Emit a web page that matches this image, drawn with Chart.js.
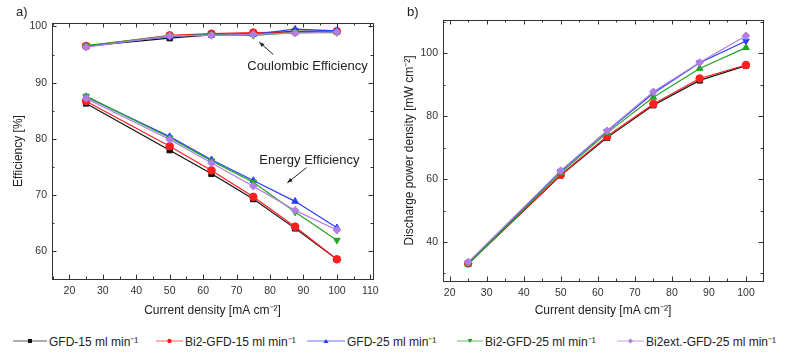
<!DOCTYPE html>
<html>
<head>
<meta charset="utf-8">
<script src="https://cdn.jsdelivr.net/npm/chart.js@4.4.1/dist/chart.umd.min.js"></script>
<style>
  body { margin: 0; background: #fff; }
  #wrap { position: relative; width: 800px; height: 353px; overflow: hidden; font-family: "Liberation Sans", Arial, sans-serif; color: #222; }
  canvas { position: absolute; top: 0; }
  .panel { position: absolute; top: 4px; font-size: 13px; }
  .leg { position: absolute; top: 333px; height: 16px; display: flex; align-items: center; font-size: 12px; white-space: nowrap; }
  .leg svg { margin-right: 2px; }
</style>
</head>
<body>
<div id="wrap">
  <canvas id="chartA" width="400" height="325" style="left:0"></canvas>
  <canvas id="chartB" width="400" height="325" style="left:400px"></canvas>
  <div class="panel" style="left:16px">a)</div>
  <div class="panel" style="left:407px">b)</div>
  <div id="legend"></div>
</div>
<script>
// corriente de descarga (eje x de ambos graficos)
var currentDensity = [25, 50, 62.5, 75, 87.5, 100];

var seriesNames = ['GFD-15 ml min⁻¹', 'Bi2-GFD-15 ml min⁻¹', 'GFD-25 ml min⁻¹', 'Bi2-GFD-25 ml min⁻¹', 'Bi2ext.-GFD-25 ml min⁻¹'];

// Coulombic efficiency [%]
var ceGFD15     = [96.5, 97.9, 98.5, 98.7, 99.1, 99.2];
var ceBi2GFD15  = [96.5, 98.4, 98.7, 98.9, 99.0, 99.1];
var ceGFD25     = [96.5, 98.2, 98.6, 98.6, 99.5, 99.2];
var ceBi2GFD25  = [96.6, 98.3, 98.5, 98.4, 98.9, 98.9];
var ceBi2extGFD = [96.3, 98.3, 98.4, 98.6, 98.8, 99.0];

// Energy efficiency [%]
var eeGFD15     = [86.3, 78.0, 73.8, 69.3, 64.1, 58.6];
var eeBi2GFD15  = [86.7, 78.7, 74.4, 69.7, 64.4, 58.6];
var eeGFD25     = [87.5, 80.4, 76.3, 72.6, 68.9, 64.2];
var eeBi2GFD25  = [87.6, 80.2, 76.1, 72.3, 67.0, 62.0];
var eeBi2extGFD = [87.2, 79.9, 75.7, 71.6, 67.3, 63.8];

// Discharge power density [mW cm-2]
var pdGFD15     = [33.1, 61.2, 73.2, 83.5, 91.4, 96.1];
var pdBi2GFD15  = [33.2, 61.4, 73.6, 83.9, 92.0, 96.3];
var pdGFD25     = [33.3, 62.5, 75.2, 87.3, 97.0, 103.9];
var pdBi2GFD25  = [33.0, 62.0, 74.7, 86.0, 95.2, 101.8];
var pdBi2extGFD = [33.6, 62.7, 75.4, 87.8, 97.1, 105.6];

// etiquetas de los ejes
var ticksXa = [20, 30, 40, 50, 60, 70, 80, 90, 100, 110];
var ticksYa = [60, 70, 80, 90, 100];
var ticksXb = [20, 30, 40, 50, 60, 70, 80, 90, 100];
var ticksYb = [40, 60, 80, 100];

var colors = ['#111111', '#ff1f1f', '#2a3cff', '#22a622', '#b07ee4'];
var markers = ['rect', 'circle', 'triangle', 'triangle', 'rectRot'];
var rotA = [0, 0, 0, 180, 0];
var rotB = [0, 0, 180, 0, 0];

var FONT = '"Liberation Sans", Arial, sans-serif';

function makeSet(i, values, rot) {
  return {
    label: seriesNames[i],
    data: currentDensity.map(function (x, k) { return { x: x, y: values[k] }; }),
    borderColor: colors[i],
    backgroundColor: colors[i],
    borderWidth: 1.2,
    pointStyle: markers[i],
    pointRotation: rot[i],
    pointRadius: 3.8,
    pointBorderWidth: 1,
    order: 5 - i
  };
}

// marco completo y marcas hacia adentro (estilo Origin)
var frameTicks = {
  id: 'frameTicks',
  afterDatasetsDraw: function (chart, args, o) {
    var ctx = chart.ctx, a = chart.chartArea, x = chart.scales.x, y = chart.scales.y;
    ctx.save();
    ctx.strokeStyle = '#333';
    ctx.lineWidth = 1;
    ctx.strokeRect(Math.round(a.left) + 0.5, Math.round(a.top) + 0.5, Math.round(a.right - a.left), Math.round(a.bottom - a.top));
    ctx.beginPath();
    var v, p, len;
    for (v = Math.ceil(x.min / o.xMinor) * o.xMinor; v <= x.max; v += o.xMinor) {
      len = Math.abs(v % o.xMajor) < 1e-6 ? 4.5 : 2.5;
      p = Math.round(x.getPixelForValue(v)) + 0.5;
      ctx.moveTo(p, a.bottom); ctx.lineTo(p, a.bottom - len);
      ctx.moveTo(p, a.top); ctx.lineTo(p, a.top + len);
    }
    for (v = Math.ceil(y.min / o.yMinor) * o.yMinor; v <= y.max; v += o.yMinor) {
      len = Math.abs(v % o.yMajor) < 1e-6 ? 4.5 : 2.5;
      p = Math.round(y.getPixelForValue(v)) + 0.5;
      ctx.moveTo(a.left, p); ctx.lineTo(a.left + len, p);
      ctx.moveTo(a.right, p); ctx.lineTo(a.right - len, p);
    }
    ctx.stroke();
    ctx.restore();
  }
};

// textos con flecha dentro del grafico a)
var notes = {
  id: 'notes',
  afterDatasetsDraw: function (chart, args, o) {
    if (!o.items) return;
    var ctx = chart.ctx, x = chart.scales.x, y = chart.scales.y;
    ctx.save();
    ctx.font = '13px ' + FONT;
    ctx.fillStyle = '#222';
    ctx.strokeStyle = '#222';
    ctx.lineWidth = 1;
    ctx.textAlign = 'center';
    ctx.textBaseline = 'middle';
    o.items.forEach(function (it) {
      ctx.fillText(it.text, x.getPixelForValue(it.at[0]), y.getPixelForValue(it.at[1]));
      var x1 = x.getPixelForValue(it.from[0]), y1 = y.getPixelForValue(it.from[1]);
      var x2 = x.getPixelForValue(it.to[0]), y2 = y.getPixelForValue(it.to[1]);
      var ang = Math.atan2(y2 - y1, x2 - x1);
      ctx.beginPath();
      ctx.moveTo(x1, y1); ctx.lineTo(x2, y2);
      ctx.stroke();
      ctx.beginPath();
      ctx.moveTo(x2, y2);
      ctx.lineTo(x2 - 5 * Math.cos(ang) + 2 * Math.sin(ang), y2 - 5 * Math.sin(ang) - 2 * Math.cos(ang));
      ctx.lineTo(x2 - 5 * Math.cos(ang) - 2 * Math.sin(ang), y2 - 5 * Math.sin(ang) + 2 * Math.cos(ang));
      ctx.closePath();
      ctx.fill();
    });
    ctx.restore();
  }
};

function axisOpts(min, max, tickVals, title, pad, size, titlePad) {
  return {
    type: 'linear',
    min: min,
    max: max,
    grid: { display: false, drawTicks: false },
    border: { display: false },
    afterBuildTicks: function (s) { s.ticks = tickVals.map(function (v) { return { value: v }; }); },
    afterFit: function (s) { if (s.isHorizontal()) s.height = size; else s.width = size; },
    ticks: { padding: pad, color: '#333', font: { family: FONT, size: 10.5 }, callback: function (v) { return v; } },
    title: { display: true, text: title, color: '#222', font: { family: FONT, size: 12 }, padding: titlePad }
  };
}

function baseOptions(pad) {
  return {
    responsive: false,
    animation: false,
    devicePixelRatio: 1,
    layout: { padding: pad },
    plugins: { legend: { display: false }, tooltip: { enabled: false } }
  };
}

var optsA = baseOptions({ top: 23, right: 27, left: 0, bottom: 0 });
optsA.scales = {
  x: axisOpts(14.8, 110.8, ticksXa, 'Current density [mA cm⁻²]', 6, 46, { top: 0, bottom: 7 }),
  y: axisOpts(55.1, 100.6, ticksYa, 'Efficiency [%]', 5, 52, { top: 11, bottom: 0 })
};
optsA.plugins.frameTicks = { xMajor: 10, xMinor: 5, yMajor: 10, yMinor: 5 };
optsA.plugins.notes = {
  items: [
    { text: 'Coulombic Efficiency', at: [91.2, 92.8], from: [81.0, 95.0], to: [76.8, 97.2] },
    { text: 'Energy Efficiency', at: [91.8, 76.2], from: [90.9, 74.9], to: [85.2, 72.2] }
  ]
};

var ceAll = [ceGFD15, ceBi2GFD15, ceGFD25, ceBi2GFD25, ceBi2extGFD];
var eeAll = [eeGFD15, eeBi2GFD15, eeGFD25, eeBi2GFD25, eeBi2extGFD];
var pdAll = [pdGFD15, pdBi2GFD15, pdGFD25, pdBi2GFD25, pdBi2extGFD];

var setsA = [];
for (var i = 0; i < 5; i++) {
  setsA.push(makeSet(i, ceAll[i], rotA));
  setsA.push(makeSet(i, eeAll[i], rotA));
}

new Chart(document.getElementById('chartA'), {
  type: 'line',
  data: { datasets: setsA },
  options: optsA,
  plugins: [frameTicks, notes]
});

var optsB = baseOptions({ top: 20, right: 37, left: 0, bottom: 0 });
optsB.scales = {
  x: axisOpts(18.2, 104.6, ticksXb, 'Current density [mA cm⁻²]', 6, 44, { top: 0, bottom: 7 }),
  y: axisOpts(27.6, 110.6, ticksYb, 'Discharge power density [mW cm⁻²]', 5, 43, { top: 2, bottom: 0 })
};
optsB.plugins.frameTicks = { xMajor: 10, xMinor: 5, yMajor: 20, yMinor: 10 };

new Chart(document.getElementById('chartB'), {
  type: 'line',
  data: { datasets: pdAll.map(function (d, k) { return makeSet(k, d, rotB); }) },
  options: optsB,
  plugins: [frameTicks, notes]
});

// leyenda comun debajo de los dos graficos
var legLeft = [13, 156, 307, 457, 617];
var legLine = [34, 27, 38, 26, 27];
function markerSvg(i, w) {
  var c = colors[i], m = w / 2, s = '';
  if (markers[i] === 'rect') s = '<rect x="' + (m - 2) + '" y="3" width="4" height="4" fill="' + c + '"/>';
  else if (markers[i] === 'circle') s = '<circle cx="' + m + '" cy="5" r="2.2" fill="' + c + '"/>';
  else if (markers[i] === 'rectRot') s = '<polygon points="' + m + ',2.5 ' + (m + 2.5) + ',5 ' + m + ',7.5 ' + (m - 2.5) + ',5" fill="' + c + '"/>';
  else if (rotA[i] === 180) s = '<polygon points="' + (m - 2.5) + ',3 ' + (m + 2.5) + ',3 ' + m + ',7" fill="' + c + '"/>';
  else s = '<polygon points="' + (m - 2.5) + ',7 ' + (m + 2.5) + ',7 ' + m + ',3" fill="' + c + '"/>';
  return '<svg width="' + w + '" height="10"><line x1="0" y1="5" x2="' + w + '" y2="5" stroke="' + c + '" stroke-opacity="0.7" stroke-width="1"/>' + s + '</svg>';
}
var legend = document.getElementById('legend');
seriesNames.forEach(function (name, i) {
  var d = document.createElement('div');
  d.className = 'leg';
  d.style.left = legLeft[i] + 'px';
  d.innerHTML = markerSvg(i, legLine[i]) + '<span>' + name + '</span>';
  legend.appendChild(d);
});
</script>
</body>
</html>
